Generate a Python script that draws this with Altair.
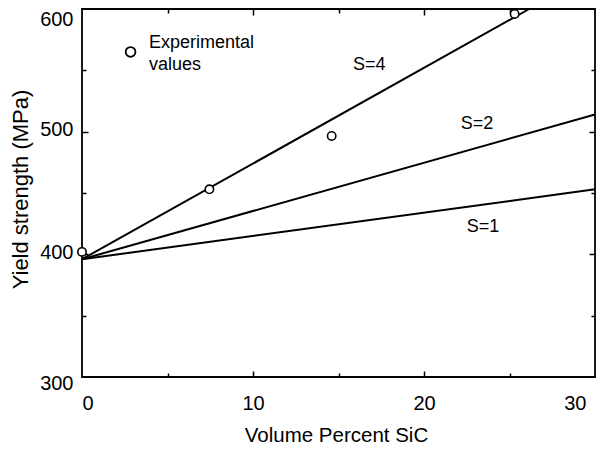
import altair as alt
import pandas as pd

# ---- data ----
series = ["S=1", "S=2", "S=4"]
line_x0 = [0, 0, 0]
line_y0 = [396, 396, 396]
line_x1 = [30, 30, 26.15]
line_y1 = [453, 514, 600]

exp_x = [0, 7.45, 14.6, 25.3]
exp_y = [402, 453, 496.5, 596]

legend_marker_x = [2.84]
legend_marker_y = [565]
legend_text = ["Experimental\nvalues"]
legend_text_x = [3.92]
legend_text_y = [568.2]

label_text = ["S=4", "S=2", "S=1"]
label_x = [16.8, 23.1, 23.45]
label_y = [554, 506, 422]

x_label_ticks = [0, 10, 20, 30]
y_label_ticks = [300, 400, 500, 600]
x_inner_ticks = [5, 10, 15, 20, 25]
y_inner_ticks = [350, 400, 450, 500, 550]

W, H = 513, 368
FONT = "Liberation Sans"

lines_df = pd.DataFrame(
    [{"s": s, "x": a, "y": b} for s, a, b in zip(series, line_x0, line_y0)]
    + [{"s": s, "x": a, "y": b} for s, a, b in zip(series, line_x1, line_y1)]
)
exp_df = pd.DataFrame({"x": exp_x, "y": exp_y})
leg_df = pd.DataFrame({"x": legend_marker_x, "y": legend_marker_y})
legtxt_df = pd.DataFrame({"x": legend_text_x, "y": legend_text_y, "t": legend_text})
lab_df = pd.DataFrame({"x": label_x, "y": label_y, "t": label_text})

xs = alt.Scale(domain=[0, 30], nice=False, zero=False)
ys = alt.Scale(domain=[300, 600], nice=False, zero=False)

major_minor = {"condition": {"test": "datum.value % 10 == 0", "value": 6}, "value": 4}
major_minor_y = {"condition": {"test": "datum.value % 100 == 0", "value": 6}, "value": 4}

def tick_axis_x(orient):
    return alt.Axis(orient=orient, offset=-H, values=x_inner_ticks, labels=False,
                    domain=False, grid=False, ticks=True, tickSize=major_minor,
                    tickColor="black", tickWidth=1.5, title=None)

def tick_axis_y(orient):
    return alt.Axis(orient=orient, offset=-W, values=y_inner_ticks, labels=False,
                    domain=False, grid=False, ticks=True, tickSize=major_minor_y,
                    tickColor="black", tickWidth=1.5, title=None)

lines = alt.Chart(lines_df).mark_line(color="black", strokeWidth=2).encode(
    x=alt.X("x:Q", scale=xs, axis=alt.Axis(
        orient="bottom", values=x_label_ticks, ticks=False, tickSize=0, domain=False,
        grid=False, labelPadding=16, labelBaseline="top", labelFontSize=20,
        labelFont=FONT, labelColor="black",
        labelOffset={"condition": {"test": "datum.value == 30", "value": -9}, "value": 0},
        title="Volume Percent SiC", titleFont=FONT, titleFontSize=20.5,
        titleFontWeight="normal", titleColor="black", titleX=254, titleY=64,
        titleAlign="center", titleBaseline="alphabetic")),
    y=alt.Y("y:Q", scale=ys, axis=alt.Axis(
        orient="left", values=y_label_ticks, ticks=False, tickSize=0, domain=False,
        grid=False, labelPadding=9, labelFontSize=20, labelFont=FONT, labelColor="black",
        labelBaseline="middle",
        labelOffset={"condition": [
            {"test": "datum.value == 600", "value": 10},
            {"test": "datum.value == 300", "value": 6}], "value": -2},
        title="Yield strength (MPa)", titleFont=FONT, titleFontSize=22,
        titleFontWeight="normal", titleColor="black", titleX=-62, titleY=180,
        titleAngle=270, titleAlign="center", titleBaseline="middle")),
    detail="s:N",
)

points = alt.Chart(exp_df).mark_point(
    shape="circle", filled=False, fill="white", fillOpacity=1, stroke="black",
    strokeWidth=1.6, size=70, opacity=1
).encode(
    x=alt.X("x:Q", scale=xs, axis=tick_axis_x("top")),
    y=alt.Y("y:Q", scale=ys, axis=tick_axis_y("right")),
)

legend_pt = alt.Chart(leg_df).mark_point(
    shape="circle", filled=False, stroke="black", strokeWidth=1.8, size=95, opacity=1
).encode(
    x=alt.X("x:Q", scale=xs, axis=tick_axis_x("bottom")),
    y=alt.Y("y:Q", scale=ys, axis=tick_axis_y("left")),
)

legend_txt = alt.Chart(legtxt_df).mark_text(
    align="left", baseline="alphabetic", font=FONT, fontSize=18, color="black",
    lineBreak="\n", lineHeight=22
).encode(
    x=alt.X("x:Q", scale=xs, axis=None),
    y=alt.Y("y:Q", scale=ys, axis=None),
    text="t:N",
)

labels = alt.Chart(lab_df).mark_text(
    align="center", baseline="middle", font=FONT, fontSize=18, color="black"
).encode(
    x=alt.X("x:Q", scale=xs, axis=None),
    y=alt.Y("y:Q", scale=ys, axis=None),
    text="t:N",
)

chart = alt.layer(lines, points, legend_pt, legend_txt, labels).resolve_axis(
    x="independent", y="independent"
).properties(
    width=W, height=H,
    autosize=alt.AutoSizeParams(type="none"),
    padding={"left": 74, "top": 1, "right": 2, "bottom": 72},
    background="white",
).configure_view(
    stroke="black", strokeWidth=1.8
)

chart.save("out.html", embed_options={"renderer": "svg", "actions": False})
